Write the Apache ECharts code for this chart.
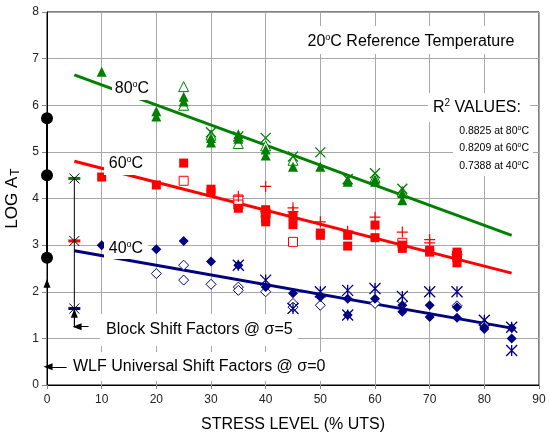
<!DOCTYPE html>
<html>
<head>
<meta charset="utf-8">
<script src="https://cdn.jsdelivr.net/npm/echarts@6/dist/echarts.min.js"></script>
<style>
  html, body { margin: 0; padding: 0; background: #fff; }
  #chart { width: 549px; height: 437px; }
</style>
</head>
<body>
<div id="chart"></div>
<script>
// Axis ranges
const X_MIN = 0, X_MAX = 90, X_STEP = 10;
const Y_MIN = 0, Y_MAX = 8, Y_STEP = 1;

// 80 °C test data: [stress %UTS, log aT]
const t80Filled = [[10, 6.72], [20, 5.87], [20, 5.76], [25, 6.18], [25, 6.08], [30, 5.30], [30, 5.20],
  [35, 5.38], [35, 5.28], [40, 5.05], [40, 4.92], [45, 4.68], [50, 4.68], [55, 4.40], [55, 4.36],
  [60, 4.41], [60, 4.36], [65, 4.11], [65, 3.96]];
const t80Open = [[25, 6.40], [25, 6.00], [30, 5.36], [35, 5.18], [40, 5.13], [45, 4.82], [60, 4.45], [65, 4.15]];
const t80Cross = [[30, 5.42], [35, 5.33], [40, 5.30], [45, 4.90], [50, 4.99], [55, 4.42], [60, 4.54], [65, 4.21]];
const t80Trend = [[5, 6.65], [85, 3.21]];

// 60 °C test data
const t60Filled = [[10, 4.46], [20, 4.29], [25, 4.76], [30, 4.20], [30, 4.13], [35, 3.79], [40, 3.76],
  [40, 3.57], [40, 3.50], [45, 3.62], [45, 3.44], [50, 3.26], [50, 3.21], [55, 3.21], [55, 2.98],
  [60, 3.43], [60, 3.16], [65, 3.00], [65, 2.93], [70, 2.89], [70, 2.85], [75, 2.85], [75, 2.73], [75, 2.62]];
const t60Open = [[25, 4.38], [35, 3.98], [35, 3.87], [40, 3.68], [45, 3.07], [65, 3.05], [75, 2.78]];
const t60Plus = [[35, 4.05], [40, 4.26], [40, 3.72], [45, 3.80], [45, 3.72], [50, 3.50], [55, 3.30],
  [60, 3.60], [65, 3.28], [70, 3.12], [70, 3.05], [75, 2.80]];
const t60Trend = [[5, 4.80], [85, 2.40]];

// 40 °C test data
const t40Filled = [[10, 3.00], [20, 2.91], [25, 3.09], [30, 2.65], [35, 2.57], [40, 2.10], [45, 1.97],
  [50, 1.89], [55, 1.85], [55, 1.50], [60, 1.85], [65, 1.71], [65, 1.57], [70, 1.71], [70, 1.46],
  [75, 1.67], [75, 1.44], [80, 1.24], [80, 1.20], [85, 1.22], [85, 1.00]];
const t40Open = [[20, 2.39], [25, 2.57], [25, 2.25], [30, 2.16], [35, 2.10], [35, 2.03], [40, 2.00],
  [45, 1.75], [45, 1.67], [50, 1.71], [60, 1.75], [65, 1.80], [75, 1.70], [80, 1.30]];
const t40Star = [[35, 2.57], [40, 2.25], [45, 1.64], [50, 2.00], [55, 2.03], [55, 1.50], [60, 2.07],
  [65, 1.90], [70, 2.00], [75, 2.00], [80, 1.39], [85, 1.24], [85, 0.74]];
const t40Trend = [[5, 2.88], [85, 1.22]];

// Shift factors
const wlfFactors = [[0, 5.72], [0, 4.50], [0, 2.73]];
const block80 = [[5, 4.43]];
const block60 = [[5, 3.09]];
const block40 = [[5, 1.64]];
const blockStem = [[5, 1.24], [5, 4.43]];

// Pointer arrows: [from, to]
const arrowWlfUp = [[0, 0.39], [0, 2.18]];
const arrowWlfLeft = [[3.6, 0.39], [0.2, 0.39]];
const arrowBlockUp = [[5, 1.24], [5, 1.54]];
const arrowBlockLeft = [[7.6, 1.25], [5.5, 1.25]];

// Fit quality
const rTemps = ['80', '60', '40'];
const rValues = ['0.8825', '0.8209', '0.7388'];

const FONT = '"Liberation Sans", Arial, Helvetica, sans-serif';
const GREEN = '#008000', RED = '#ff0000', NAVY = '#000080', BLACK = '#000000';

const SYM_X = 'path://M0,0L10,10M10,0L0,10';
const SYM_STAR = 'path://M0,0L10,10M10,0L0,10M5,0L5,10';
const SYM_PLUS = 'path://M5,0L5,10M0,5L10,5';

function marks(data, symbol, size, fill, stroke, bw) {
  return {
    type: 'scatter', data, symbol, symbolSize: size, silent: true, animation: false,
    itemStyle: { color: fill, borderColor: stroke, borderWidth: bw, opacity: 1 }
  };
}
function trend(data, color) {
  return {
    type: 'line', data, showSymbol: false, symbol: 'none', silent: true, animation: false,
    lineStyle: { color, width: 3 }, z: 1
  };
}
function arrowPair(p) {
  return [{ coord: p[0], symbol: 'none' }, { coord: p[1], symbol: 'triangle', symbolSize: [7, 9] }];
}

const chart = echarts.init(document.getElementById('chart'), null, { renderer: 'canvas' });

// raised small text (superscript): extra bottom padding lifts it within the line
const sup = (s, lift) => ({ fontSize: s, fontFamily: FONT, color: '#000', padding: [0, 0, lift, 0] });

chart.setOption({
  animation: false,
  backgroundColor: '#fff',
  textStyle: { fontFamily: FONT },
  grid: {
    left: 47, top: 12, right: 10, bottom: 52,
    containLabel: false, outerBoundsMode: 'none',
    show: true, borderColor: BLACK, borderWidth: 1, backgroundColor: 'transparent'
  },
  xAxis: {
    type: 'value', min: X_MIN, max: X_MAX, interval: X_STEP,
    name: 'STRESS LEVEL (% UTS)', nameLocation: 'middle', nameGap: 32,
    nameTextStyle: { fontSize: 16, color: '#000', fontFamily: FONT },
    axisLine: { show: true, onZero: false, lineStyle: { color: BLACK, width: 1 } },
    axisTick: { show: true, length: 4, lineStyle: { color: '#888' } },
    axisLabel: { fontSize: 12, color: '#222', margin: 9, fontFamily: FONT },
    splitLine: { show: true, lineStyle: { color: '#a8a8a8', width: 1 } }
  },
  yAxis: {
    type: 'value', min: Y_MIN, max: Y_MAX, interval: Y_STEP,
    name: '{a|LOG A}{t|T}', nameLocation: 'middle', nameGap: 25, nameRotate: 90,
    nameTextStyle: {
      rich: {
        a: { fontSize: 17, color: '#000', fontFamily: FONT },
        t: { fontSize: 12, color: '#000', fontFamily: FONT, padding: [6, 0, 0, 1] }
      }
    },
    axisLine: { show: true, onZero: false, lineStyle: { color: BLACK, width: 1 } },
    axisTick: { show: true, length: 5, lineStyle: { color: '#888' } },
    axisLabel: { fontSize: 12, color: '#222', margin: 8, fontFamily: FONT },
    splitLine: { show: true, lineStyle: { color: '#a8a8a8', width: 1 } }
  },
  series: [
    trend(t80Trend, GREEN),
    trend(t60Trend, RED),
    trend(t40Trend, NAVY),

    marks(t80Open, 'triangle', 10, '#fff', GREEN, 1),
    marks(t80Filled, 'triangle', 10, GREEN, GREEN, 0),
    marks(t80Cross, SYM_X, 10, 'none', GREEN, 1.3),

    marks(t60Open, 'rect', 9, '#fff', RED, 1),
    marks(t60Filled, 'rect', 9, RED, RED, 0),
    marks(t60Plus, SYM_PLUS, 11, 'none', RED, 1.2),

    marks(t40Open, 'diamond', 10, '#fff', NAVY, 1),
    marks(t40Filled, 'diamond', 10, NAVY, NAVY, 0),
    marks(t40Star, SYM_STAR, 11, 'none', NAVY, 1.3),

    // WLF universal shift factors on the stress = 0 axis
    {
      type: 'line', data: wlfFactors, symbol: 'circle', symbolSize: 12, silent: true, animation: false,
      lineStyle: { color: BLACK, width: 2 }, itemStyle: { color: BLACK }, z: 4,
      markLine: {
        silent: true, animation: false, label: { show: false },
        lineStyle: { color: BLACK, width: 1, type: 'solid' },
        data: [arrowPair(arrowWlfUp), arrowPair(arrowWlfLeft), arrowPair(arrowBlockUp), arrowPair(arrowBlockLeft)]
      }
    },
    // block shift factors at stress = 5
    {
      type: 'line', data: blockStem, showSymbol: false, symbol: 'none', silent: true, animation: false,
      lineStyle: { color: BLACK, width: 1 }, z: 3
    },
    marks(block80, 'rect', [12, 3], GREEN, GREEN, 0),
    marks(block60, 'rect', [12, 3], RED, RED, 0),
    marks(block40, 'rect', [12, 3], NAVY, NAVY, 0),
    marks(block80.concat(block60, block40), SYM_X, 10, 'none', BLACK, 1)
  ]
});

// Text annotations with opaque backgrounds
function box(x, y, w, h) {
  return { type: 'rect', shape: { x, y, width: w, height: h }, style: { fill: '#fff' }, z: 100, silent: true };
}
function label(x, y, text, rich, align) {
  return {
    type: 'text', x, y, z: 101, silent: true,
    style: { text, rich, align: align || 'left', verticalAlign: 'middle', fill: '#000', font: '16px ' + FONT }
  };
}
const degRich = (fs, ss, lift) => ({
  n: { fontSize: fs, fontFamily: FONT, color: '#000' },
  s: sup(ss, lift)
});

const graphics = [
  box(112, 79, 40, 21), label(132, 89, '{n|' + rTemps[0] + '}{s|o}{n|C}', degRich(16, 9, 9), 'center'),
  box(104, 153, 44, 22), label(126, 164, '{n|' + rTemps[1] + '}{s|o}{n|C}', degRich(16, 9, 9), 'center'),
  box(104, 238, 44, 21), label(126, 249, '{n|' + rTemps[2] + '}{s|o}{n|C}', degRich(16, 9, 9), 'center'),
  box(100, 314, 198, 32), label(106, 330, '{n|Block Shift Factors @ σ=5}', degRich(16, 9, 0)),
  box(68, 352, 262, 29), label(73, 367, '{n|WLF Universal Shift Factors @ σ=0}', degRich(16, 9, 0)),
  box(300, 26, 226, 28), label(411, 42, '{n|20}{s|o}{n|C Reference Temperature}', degRich(16, 9, 9), 'center'),
  box(428, 93, 102, 29), label(433, 108, '{n|R}{s|2}{n| VALUES:}', degRich(16, 10, 9)),
  box(453, 122, 80, 54)
];
rTemps.forEach((t, i) => {
  graphics.push(label(529, 131 + i * 17.5, '{n|' + rValues[i] + ' at ' + t + '}{s|o}{n|C}', degRich(10.5, 7, 6), 'right'));
});

chart.setOption({ graphic: graphics });
</script>
</body>
</html>
